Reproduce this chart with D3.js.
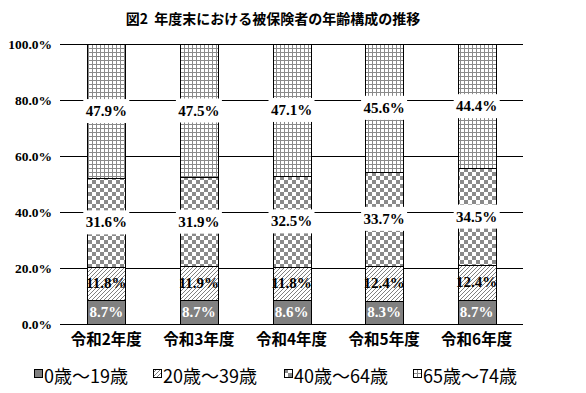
<!DOCTYPE html>
<html>
<head>
<meta charset="utf-8">
<script src="https://cdn.jsdelivr.net/npm/d3@7"></script>
<style>
  body { margin: 0; background: #fff; }
</style>
</head>
<body>
<script>
const years = ['令和2年度', '令和3年度', '令和4年度', '令和5年度', '令和6年度']
const groups = ['0歳～19歳', '20歳～39歳', '40歳～64歳', '65歳～74歳']
const age0_19 = [8.7, 8.7, 8.6, 8.3, 8.7]
const age20_39 = [11.8, 11.9, 11.8, 12.4, 12.4]
const age40_64 = [31.6, 31.9, 32.5, 33.7, 34.5]
const age65_74 = [47.9, 47.5, 47.1, 45.6, 44.4]
const yTicks = [0, 20, 40, 60, 80, 100]

const W = 586, H = 393
const svg = d3.select('body').append('svg')
    .attr('width', W)
    .attr('height', H)

// fill patterns
const defs = svg.append('defs')

let p = defs.append('pattern').attr('id', 'hatch')
    .attr('patternUnits', 'userSpaceOnUse').attr('width', 4).attr('height', 4)
p.append('rect').attr('width', 4).attr('height', 4).attr('fill', '#fff')
p.append('path').attr('d', 'M-1,1 L1,-1 M0,4 L4,0 M3,5 L5,3')
    .attr('stroke', '#707070').attr('stroke-width', 0.9)

p = defs.append('pattern').attr('id', 'checker')
    .attr('patternUnits', 'userSpaceOnUse').attr('width', 8).attr('height', 8)
p.append('rect').attr('width', 8).attr('height', 8).attr('fill', '#fff')
p.append('rect').attr('width', 4).attr('height', 4).attr('fill', '#8a8a8a')
p.append('rect').attr('x', 4).attr('y', 4).attr('width', 4).attr('height', 4).attr('fill', '#8a8a8a')

p = defs.append('pattern').attr('id', 'grid')
    .attr('patternUnits', 'userSpaceOnUse').attr('width', 4).attr('height', 4)
p.append('rect').attr('width', 4).attr('height', 4).attr('fill', '#fff')
p.append('path').attr('d', 'M0,0.5 H4 M0.5,0 V4')
    .attr('stroke', '#8a8a8a').attr('stroke-width', 1)

const fills = ['#808080', 'url(#hatch)', 'url(#checker)', 'url(#grid)']

const x = d3.scaleBand().domain(years).range([60, 523])
const y = d3.scaleLinear().domain([0, 100]).range([324, 44])
const barW = 38

// title
svg.append('text')
    .attr('x', 273).attr('y', 24)
    .attr('text-anchor', 'middle')
    .style('font-family', '"Noto Sans CJK JP"')
    .style('font-weight', 'bold')
    .style('font-size', '14px')
    .text('図2\u00a0\u00a0年度末における被保険者の年齢構成の推移')

// grid + y labels
svg.selectAll('.grid')
    .data(yTicks)
    .enter()
    .append('line')
        .attr('x1', 60).attr('x2', 523)
        .attr('y1', d => Math.round(y(d)) + 0.5)
        .attr('y2', d => Math.round(y(d)) + 0.5)
        .attr('stroke', '#000')

svg.selectAll('.ylab')
    .data(yTicks)
    .enter()
    .append('text')
        .attr('x', 52)
        .attr('y', d => y(d) + 4.5)
        .attr('text-anchor', 'end')
        .style('font-family', '"Liberation Serif"')
        .style('font-weight', 'bold')
        .style('font-size', '13.5px')
        .text(d => d.toFixed(1) + '%')

// stacked data
const rows = years.map((yr, i) => ({
    year: yr,
    g0: age0_19[i], g1: age20_39[i], g2: age40_64[i], g3: age65_74[i]
}))
const stack = d3.stack().keys(['g0', 'g1', 'g2', 'g3'])(rows)

const layers = svg.selectAll('.layer')
    .data(stack)
    .enter()
    .append('g')
        .attr('fill', (d, i) => fills[i])

layers.selectAll('rect')
    .data(d => d)
    .enter()
    .append('rect')
        .attr('x', d => Math.round(x(d.data.year) + x.bandwidth() / 2 - barW / 2) + 0.5)
        .attr('y', d => Math.round(y(d[1])) + 0.5)
        .attr('width', barW)
        .attr('height', d => Math.round(y(d[0])) - Math.round(y(d[1])))
        .attr('stroke', '#000')
        .attr('stroke-width', 1)

// data labels
stack.forEach((layer, li) => {
    layer.forEach(d => {
        const cx = x(d.data.year) + x.bandwidth() / 2
        const cy = y((d[0] + d[1]) / 2)
        const val = d[1] - d[0]
        if (li >= 2) {
            svg.append('rect')
                .attr('x', cx - 23).attr('y', cy - 12)
                .attr('width', 46).attr('height', 24)
                .attr('fill', '#fff')
        }
        svg.append('text')
            .attr('x', cx)
            .attr('y', cy + 5)
            .attr('text-anchor', 'middle')
            .attr('fill', li == 0 ? '#fff' : '#000')
            .style('font-family', '"Liberation Serif"')
            .style('font-weight', 'bold')
            .style('font-size', '15px')
            .text(val.toFixed(1) + '%')
    })
})

// category labels
svg.selectAll('.xlab')
    .data(years)
    .enter()
    .append('text')
        .attr('x', d => x(d) + x.bandwidth() / 2)
        .attr('y', 345)
        .attr('text-anchor', 'middle')
        .style('font-family', '"Noto Sans CJK JP"')
        .style('font-weight', 'bold')
        .style('font-size', '15.5px')
        .text(d => d)

// legend
const legX = [34, 153, 284, 413]
const leg = svg.selectAll('.leg')
    .data(groups)
    .enter()
    .append('g')
        .attr('transform', (d, i) => 'translate(' + legX[i] + ',369)')

leg.append('rect')
    .attr('x', 0.5).attr('y', 0.5)
    .attr('width', 8).attr('height', 8)
    .attr('fill', (d, i) => fills[i])
    .attr('stroke', '#000')

leg.append('text')
    .attr('x', 10)
    .attr('y', 14)
    .style('font-family', '"Noto Sans CJK JP"')
    .style('font-size', '18px')
    .text(d => d)
</script>
</body>
</html>
